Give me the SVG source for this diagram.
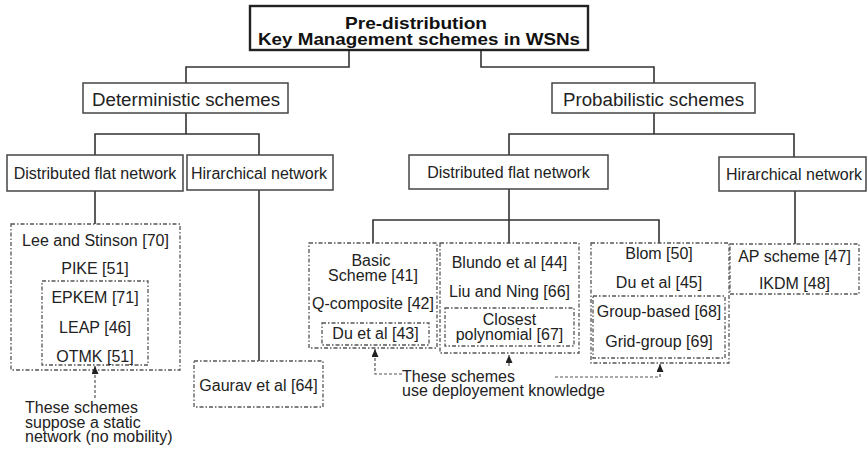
<svg xmlns="http://www.w3.org/2000/svg" width="867" height="450" viewBox="0 0 867 450">
  <defs>
    <style>
      text { font-family: "Liberation Sans", Arial, sans-serif; fill: #222; text-anchor: middle; }
      .t16 { font-size: 16px; }
      .t18 { font-size: 18px; }
      .title { font-size: 17px; font-weight: bold; fill: #111; }
      .note { font-size: 16px; text-anchor: start; }
      .box { fill: #fff; stroke: #444; stroke-width: 1.5; }
      .root { fill: #fff; stroke: #222; stroke-width: 2.4; }
      .group { fill: none; stroke: #555; stroke-width: 1.3; stroke-dasharray: 4 2 1.5 2; }
      .link { fill: none; stroke: #333; stroke-width: 1.6; }
      .hint { fill: none; stroke: #555; stroke-width: 1.2; stroke-dasharray: 3 2; }
    </style>
    <marker id="arrowUp" markerUnits="userSpaceOnUse" markerWidth="9" markerHeight="8" refX="8" refY="3.5" orient="auto">
      <path d="M0,0 L8,3.5 L0,7 z" fill="#222"/>
    </marker>
  </defs>
  <rect width="867" height="450" fill="#fff"/>

  <!-- tree connectors -->
  <g id="connectors">
    <path class="link" d="M349,50 V67 H186 V83"/>
    <path class="link" d="M481,50 V67 H654 V83"/>
    <path class="link" d="M186,113 V134 M95,155 V134 H259 V155"/>
    <path class="link" d="M654,113 V134 M509,155 V134 H794 V157"/>
    <path class="link" d="M95,191 V224"/>
    <path class="link" d="M259,190 V361"/>
    <path class="link" d="M509,189 V243 M373,243 V220 H659 V243"/>
    <path class="link" d="M795,191 V244"/>
  </g>

  <!-- root -->
  <g id="root">
    <rect class="root" x="250" y="6" width="338" height="44"/>
    <text class="title" x="416" y="29" textLength="142" lengthAdjust="spacingAndGlyphs">Pre-distribution</text>
    <text class="title" x="419" y="45" textLength="322" lengthAdjust="spacingAndGlyphs">Key Management schemes in WSNs</text>
  </g>

  <!-- level 2 -->
  <g id="deterministic">
    <rect class="box" x="83" y="83" width="205" height="30"/>
    <text class="t18" x="186" y="106" textLength="188" lengthAdjust="spacingAndGlyphs">Deterministic schemes</text>
  </g>
  <g id="probabilistic">
    <rect class="box" x="552" y="83" width="203" height="30"/>
    <text class="t18" x="653.5" y="106" textLength="181" lengthAdjust="spacingAndGlyphs">Probabilistic schemes</text>
  </g>

  <!-- level 3 -->
  <g id="det-flat">
    <rect class="box" x="7" y="155" width="176" height="36"/>
    <text class="t16" x="95" y="179">Distributed flat network</text>
  </g>
  <g id="det-hier">
    <rect class="box" x="187" y="155" width="146" height="35"/>
    <text class="t16" x="259" y="179">Hirarchical network</text>
  </g>
  <g id="prob-flat">
    <rect class="box" x="409" y="155" width="199" height="34"/>
    <text class="t16" x="508.5" y="178">Distributed flat network</text>
  </g>
  <g id="prob-hier">
    <rect class="box" x="719" y="157" width="147" height="34"/>
    <text class="t16" x="794" y="180">Hirarchical network</text>
  </g>

  <!-- deterministic flat schemes -->
  <g id="det-flat-schemes">
    <rect class="group" x="11" y="224" width="169" height="146"/>
    <text class="t16" x="95.5" y="246">Lee and Stinson [70]</text>
    <text class="t16" x="95" y="274">PIKE [51]</text>
    <rect class="group" x="42" y="281" width="106" height="84"/>
    <text class="t16" x="95" y="303">EPKEM [71]</text>
    <text class="t16" x="95" y="333">LEAP [46]</text>
    <text class="t16" x="95" y="362">OTMK [51]</text>
  </g>

  <!-- deterministic hierarchical schemes -->
  <g id="det-hier-schemes">
    <rect class="group" x="194" y="361" width="129" height="46"/>
    <text class="t16" x="258.5" y="391">Gaurav et al [64]</text>
  </g>

  <!-- probabilistic flat schemes -->
  <g id="prob-basic">
    <rect class="group" x="309" y="243" width="128" height="105"/>
    <text class="t16" x="371" y="266">Basic</text>
    <text class="t16" x="373" y="281">Scheme [41]</text>
    <text class="t16" x="373" y="309">Q-composite [42]</text>
    <rect class="group" x="322" y="323" width="107" height="22"/>
    <text class="t16" x="375.5" y="339">Du et al [43]</text>
  </g>
  <g id="prob-polynomial">
    <rect class="group" x="440" y="243" width="139" height="110"/>
    <text class="t16" x="509.5" y="268">Blundo et al [44]</text>
    <text class="t16" x="509.5" y="297">Liu and Ning [66]</text>
    <rect class="group" x="445" y="308" width="129" height="38"/>
    <text class="t16" x="509.5" y="325">Closest</text>
    <text class="t16" x="509.5" y="340">polynomial [67]</text>
  </g>
  <g id="prob-matrix">
    <rect class="group" x="591" y="243" width="138" height="120"/>
    <text class="t16" x="659" y="259">Blom [50]</text>
    <text class="t16" x="659" y="288">Du et al [45]</text>
    <rect class="group" x="593" y="296" width="132" height="62"/>
    <text class="t16" x="659" y="317">Group-based [68]</text>
    <text class="t16" x="659" y="347">Grid-group [69]</text>
  </g>

  <!-- probabilistic hierarchical schemes -->
  <g id="prob-hier-schemes">
    <rect class="group" x="730" y="244" width="129" height="50"/>
    <text class="t16" x="794.5" y="262">AP scheme [47]</text>
    <text class="t16" x="794.5" y="289">IKDM [48]</text>
  </g>

  <!-- remarks -->
  <g id="static-remark">
    <path class="hint" d="M95,398 V366" marker-end="url(#arrowUp)"/>
    <text class="note" x="25" y="413">These schemes</text>
    <text class="note" x="25" y="427.5">suppose a static</text>
    <text class="note" x="25" y="442">network (no mobility)</text>
  </g>
  <g id="deployment-remark">
    <path class="hint" d="M402,374 H375 V349" marker-end="url(#arrowUp)"/>
    <path class="hint" d="M509,366 V355" marker-end="url(#arrowUp)"/>
    <path class="hint" d="M555,377 H660 V364" marker-end="url(#arrowUp)"/>
    <text class="note" x="402" y="382">These schemes</text>
    <text class="note" x="402" y="396">use deployement knowledge</text>
  </g>
</svg>
